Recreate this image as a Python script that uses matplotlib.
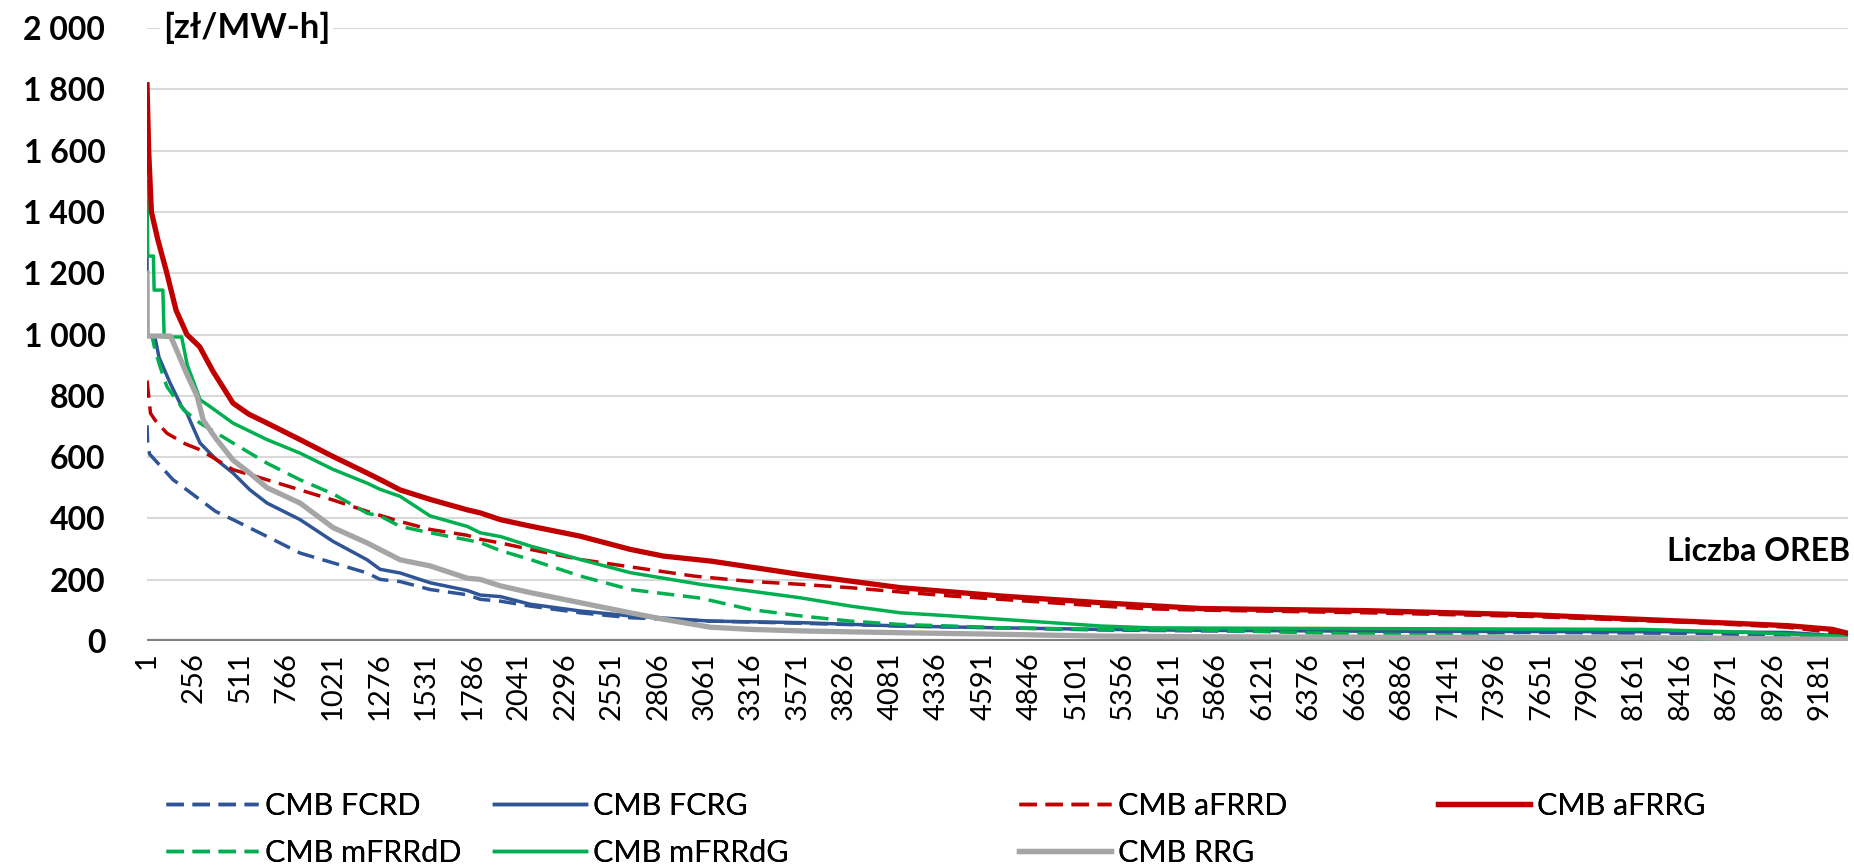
import matplotlib
matplotlib.use("Agg")
import matplotlib.pyplot as plt
from matplotlib.ticker import FuncFormatter

plt.rcParams['font.family'] = ['Lato', 'DejaVu Sans']

# liczba godzin/OREB (oś X) i ceny [zł/MW-h]
n_oreb = 9336

x_fcrd = [1, 5, 15, 67, 144, 170, 292, 377, 473, 660, 841, 1022, 1209, 1280, 1390, 1555, 1758,
          1830, 1940, 2104, 2379, 2653, 3093, 3587, 4136, 4685, 5234, 5783, 6700, 7600, 8500, 9336]
y_fcrd = [704, 640, 610, 576, 526, 515, 461, 423, 396, 341, 287, 255, 222, 201, 194, 168, 151,
          136, 130, 114, 92, 76, 65, 58, 49, 43, 36, 33, 30, 28, 25, 12]

x_fcrg = [1, 3, 46, 67, 129, 191, 220, 253, 292, 383, 473, 566, 660, 841, 1022, 1209, 1280, 1390,
          1555, 1758, 1830, 1940, 2104, 2379, 2653, 3093, 3587, 4136, 4685, 5234, 5783, 6700,
          7600, 8500, 9000, 9336]
y_fcrg = [1250, 1000, 986, 925, 840, 765, 743, 698, 646, 591, 548, 493, 450, 396, 325, 265, 234, 222,
          190, 165, 150, 145, 120, 98, 82, 65, 60, 49, 43, 38, 35, 32,
          31, 30, 28, 15]

x_afrrd = [1, 10, 20, 46, 110, 212, 292, 473, 660, 841, 1022, 1209, 1390, 1555, 1758, 1830, 1940,
           2104, 2379, 2653, 3000, 3300, 3587, 3860, 4136, 4410, 4685, 4960, 5234, 5500, 5783,
           6700, 7600, 8500, 9000, 9336]
y_afrrd = [850, 800, 743, 720, 678, 643, 624, 559, 526, 493, 460, 423, 390, 364, 345, 332, 320,
           299, 266, 242, 212, 195, 185, 174, 160, 147, 136, 125, 114, 105, 101,
           92, 80, 60, 45, 22]

x_afrrg = [1, 10, 25, 60, 110, 160, 220, 290, 363, 473, 560, 660, 841, 1022, 1209, 1280, 1390,
           1555, 1758, 1830, 1940, 2104, 2379, 2653, 2836, 3093, 3587, 4136, 4685, 5234, 5783,
           6706, 7623, 8546, 9007, 9250, 9336]
y_afrrg = [1815, 1600, 1400, 1310, 1200, 1080, 1000, 960, 880, 776, 740, 711, 657, 602, 548, 527, 493,
           462, 428, 418, 396, 375, 342, 299, 277, 261, 217, 174, 147, 125, 106,
           99, 85, 62, 50, 38, 25]

x_mfrrdd = [1, 30, 45, 70, 110, 202, 292, 473, 660, 841, 1022, 1209, 1280, 1390, 1555, 1758, 1830,
            1940, 2104, 2379, 2653, 3038, 3312, 3587, 3861, 4136, 4410, 4685, 5234, 5783, 6500,
            7500, 8500, 9336]
y_mfrrdd = [1000, 990, 950, 900, 830, 754, 711, 646, 580, 526, 480, 417, 408, 374, 353, 330, 321,
            295, 266, 212, 168, 140, 103, 82, 65, 54, 49, 43, 38, 36, 25,
            15, 8, 3]

x_mfrrdg = [1, 5, 36, 40, 88, 95, 191, 222, 260, 292, 335, 473, 660, 841, 1022, 1209, 1280, 1390,
            1555, 1758, 1830, 1940, 2104, 2379, 2653, 3038, 3312, 3587, 3861, 4136, 4410, 4685,
            4960, 5234, 5509, 5875, 7000, 8200, 8700, 9336]
y_mfrrdg = [1500, 1256, 1256, 1145, 1145, 992, 992, 900, 840, 787, 770, 711, 657, 613, 560, 515, 495, 472,
            408, 374, 353, 341, 310, 266, 223, 185, 163, 141, 114, 92, 82, 71,
            60, 49, 43, 42, 40, 38, 30, 15]

x_rrg = [1, 2, 130, 170, 220, 275, 310, 380, 473, 560, 660, 841, 1022, 1209, 1390, 1555, 1758, 1830,
         1940, 2104, 2379, 2653, 2836, 3093, 3312, 3587, 4136, 4685, 5234, 5783, 7000, 8500, 9336]
y_rrg = [1200, 995, 995, 940, 870, 800, 720, 660, 590, 550, 500, 450, 370, 320, 265, 245, 205, 201,
         180, 158, 125, 92, 71, 45, 38, 33, 27, 22, 16, 14, 12, 10, 5]

blue = '#2F5597'
red = '#C00000'
green = '#00B050'
grey = '#A5A5A5'
dash = (5.0, 2.5)

fig = plt.figure(figsize=(18.54, 8.68), dpi=100)
ax = fig.add_axes([0.0793, 0.2615, 0.9175, 0.7062])

l1, = ax.plot(x_fcrd, y_fcrd, color=blue, lw=2.5, dashes=dash, label='CMB FCRD')
l2, = ax.plot(x_fcrg, y_fcrg, color=blue, lw=2.5, label='CMB FCRG')
l3, = ax.plot(x_afrrd, y_afrrd, color=red, lw=2.5, dashes=dash, label='CMB aFRRD')
l5, = ax.plot(x_mfrrdd, y_mfrrdd, color=green, lw=2.5, dashes=dash, label='CMB mFRRdD')
l6, = ax.plot(x_mfrrdg, y_mfrrdg, color=green, lw=2.5, label='CMB mFRRdG')
l7, = ax.plot(x_rrg, y_rrg, color=grey, lw=3.8, label='CMB RRG')
l4, = ax.plot(x_afrrg, y_afrrg, color=red, lw=3.8, label='CMB aFRRG')

ax.set_xlim(1, n_oreb)
ax.set_ylim(0, 2000)
ax.set_yticks(range(0, 2001, 200))
ax.yaxis.set_major_formatter(FuncFormatter(lambda v, p: f"{int(v):,}".replace(",", " ")))
ax.set_xticks(range(1, n_oreb, 255))
ax.set_xticklabels([str(v) for v in range(1, n_oreb, 255)], rotation=90)
ax.tick_params(axis='y', length=0, pad=30, labelsize=23)
ax.tick_params(axis='x', length=0, pad=8, labelsize=21)
for lab in ax.get_yticklabels():
    lab.set_fontweight('bold')

ax.grid(axis='y', color='#D9D9D9', lw=1.5)
ax.set_axisbelow(True)
for s in ax.spines.values():
    s.set_visible(False)
ax.axhline(0, color='#808080', lw=3, zorder=1)

fig.text(0.088, 0.9677, '[zł/MW-h]', fontsize=25, fontweight='bold', va='center', ha='left',
         bbox=dict(facecolor='white', edgecolor='none', pad=2))
fig.text(0.998, 0.365, 'Liczba OREB', fontsize=23, fontweight='bold', va='center', ha='right')

# legenda - kolumny jak w Excelu
cols = [([l1, l5], 0.0895), ([l2, l6], 0.2665), ([l3, l7], 0.5496), ([l4], 0.7756)]
for handles, xpos in cols:
    leg = fig.legend(handles=handles, loc='upper left', bbox_to_anchor=(xpos, 0.088),
                     frameon=False, fontsize=22, handlelength=3.0, handletextpad=0.25,
                     borderpad=0, borderaxespad=0, labelspacing=0.62)
    fig.add_artist(leg)

fig.savefig('out.png', dpi=100)
